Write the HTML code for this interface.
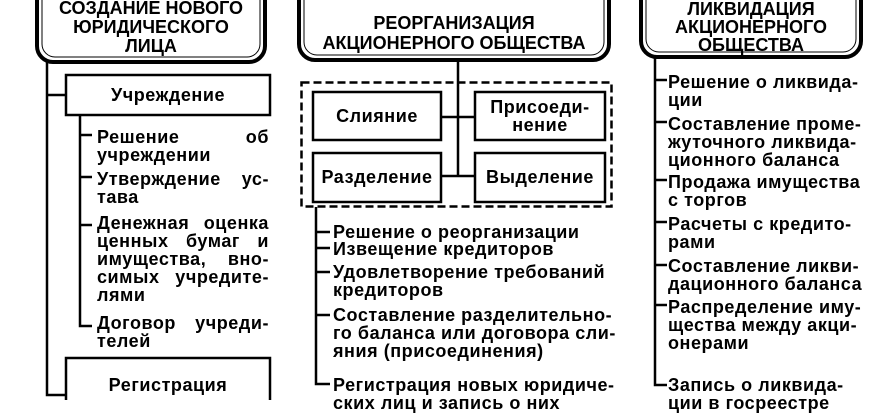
<!DOCTYPE html>
<html><head><meta charset="utf-8"><style>
body{margin:0;width:870px;height:400px;overflow:hidden;background:#fff;position:relative;font-family:"Liberation Sans","DejaVu Sans",sans-serif;font-weight:bold;color:#000}
svg{position:absolute;left:0;top:0}
.t{position:absolute;font-size:18px;letter-spacing:0.55px;line-height:18px;white-space:nowrap}
.c{text-align:center}
.j span{display:block;text-align:justify;text-align-last:justify}
.j span.l{text-align-last:left}
</style></head><body>
<svg width="870" height="400">
<g fill="none" stroke="#000">
<rect x="37" y="-20" width="228" height="82" rx="16" stroke-width="4"/>
<rect x="42" y="-15" width="218" height="72" rx="13" stroke-width="1"/>
<path d="M47 62V395H66M47 95H66M80 115V326H92M80 135H92M80 177H92M80 225H92" stroke-width="2.5"/>
<rect x="66" y="75" width="204" height="40" stroke-width="2.5"/>
<rect x="66" y="358" width="204" height="60" stroke-width="2.5"/>
<rect x="299" y="-20" width="310" height="80" rx="16" stroke-width="4"/>
<rect x="304" y="-15" width="300" height="70" rx="13" stroke-width="1"/>
<path d="M458 60V177M441 117H475M441 176H475" stroke-width="2.5"/>
<rect x="301.5" y="82.5" width="310" height="124" stroke-width="2.5" stroke-dasharray="8 4"/>
<rect x="313" y="92" width="128" height="48" stroke-width="2.5"/>
<rect x="475" y="92" width="130" height="48" stroke-width="2.5"/>
<rect x="313" y="153" width="128" height="49" stroke-width="2.5"/>
<rect x="475" y="153" width="130" height="49" stroke-width="2.5"/>
<path d="M316 207V384H330M316 232H330M316 248H330M316 272H330M316 315H330" stroke-width="2.5"/>
<rect x="641" y="-20" width="220" height="77" rx="16" stroke-width="4"/>
<rect x="646" y="-15" width="210" height="67" rx="13" stroke-width="1"/>
<path d="M655 57V385H667M655 80H667M655 122H667M655 180H667M655 222H667M655 265H667M655 305H667" stroke-width="2.5"/>
</g>
</svg>
<div class="t c" style="left:42px;top:-1px;width:218px;line-height:19px;letter-spacing:0px">СОЗДАНИЕ НОВОГО<br>ЮРИДИЧЕСКОГО<br>ЛИЦА</div>
<div class="t c" style="left:66px;top:86px;width:204px">Учреждение</div>
<div class="t j" style="left:97px;top:128px;width:172px"><span>Решение об</span><span class="l">учреждении</span></div>
<div class="t j" style="left:97px;top:170px;width:172px"><span>Утверждение ус-</span><span class="l">тава</span></div>
<div class="t j" style="left:97px;top:214px;width:172px"><span>Денежная оценка</span><span>ценных бумаг и</span><span>имущества, вно-</span><span>симых учредите-</span><span class="l">лями</span></div>
<div class="t j" style="left:97px;top:314px;width:172px"><span>Договор учреди-</span><span class="l">телей</span></div>
<div class="t c" style="left:66px;top:376px;width:204px">Регистрация</div>

<div class="t c" style="left:304px;top:13px;width:300px;line-height:20px;letter-spacing:0px">РЕОРГАНИЗАЦИЯ<br>АКЦИОНЕРНОГО ОБЩЕСТВА</div>
<div class="t c" style="left:313px;top:107px;width:128px">Слияние</div>
<div class="t c" style="left:475px;top:98px;width:130px">Присоеди-<br>нение</div>
<div class="t c" style="left:313px;top:168px;width:128px">Разделение</div>
<div class="t c" style="left:475px;top:168px;width:130px">Выделение</div>
<div class="t" style="left:333px;top:223px">Решение о реорганизации</div>
<div class="t" style="left:333px;top:240px">Извещение кредиторов</div>
<div class="t" style="left:333px;top:263px">Удовлетворение требований<br>кредиторов</div>
<div class="t" style="left:333px;top:306px">Составление разделительно-<br>го баланса или договора сли-<br>яния (присоединения)</div>
<div class="t" style="left:333px;top:376px">Регистрация новых юридиче-<br>ских лиц и запись о них</div>

<div class="t c" style="left:646px;top:0px;width:210px;line-height:18px;letter-spacing:0px">ЛИКВИДАЦИЯ<br>АКЦИОНЕРНОГО<br>ОБЩЕСТВА</div>
<div class="t" style="left:668px;top:73px">Решение о ликвида-<br>ции</div>
<div class="t" style="left:668px;top:115px">Составление проме-<br>жуточного ликвида-<br>ционного баланса</div>
<div class="t" style="left:668px;top:173px">Продажа имущества<br>с торгов</div>
<div class="t" style="left:668px;top:215px">Расчеты с кредито-<br>рами</div>
<div class="t" style="left:668px;top:257px">Составление ликви-<br>дационного баланса</div>
<div class="t" style="left:668px;top:298px">Распределение иму-<br>щества между акци-<br>онерами</div>
<div class="t" style="left:668px;top:376px">Запись о ликвида-<br>ции в госреестре</div>
</body></html>
